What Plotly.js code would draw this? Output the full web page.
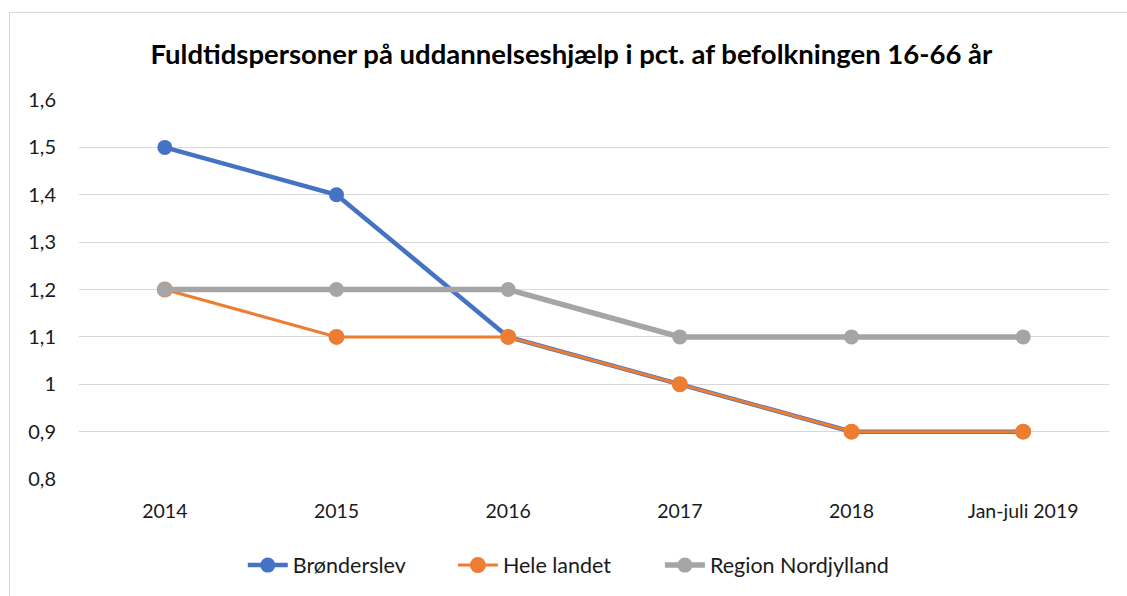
<!DOCTYPE html>
<html><head><meta charset="utf-8">
<script src="https://cdn.plot.ly/plotly-3.0.1.min.js"></script>
<style>
html,body{margin:0;padding:0;background:#fff;}
#frame{position:absolute;left:9px;top:12px;width:1130px;height:600px;border:1px solid #d9d9d9;box-sizing:border-box;}
#chart{position:absolute;left:0;top:0;width:1127px;height:596px;}
</style></head>
<body>
<div id="frame"></div>
<div id="chart"></div>
<script>
const categories = ["2014","2015","2016","2017","2018","Jan-juli 2019"];
const bronderslev = [1.5,1.4,1.1,1.0,0.9,0.9];
const heleLandet = [1.2,1.1,1.1,1.0,0.9,0.9];
const regionNordjylland = [1.2,1.2,1.2,1.1,1.1,1.1];
const seriesNames = ["Brønderslev","Hele landet","Region Nordjylland"];
const yTicks = [0.8,0.9,1.0,1.1,1.2,1.3,1.4,1.5,1.6];

const FONT = "Lato, 'Open Sans', sans-serif";
const traces = [
  {x:categories,y:bronderslev,name:seriesNames[0],mode:"lines+markers",legend:"legend",
   line:{color:"#4472c4",width:4.5},marker:{color:"#4472c4",size:15}},
  {x:categories,y:heleLandet,name:seriesNames[1],mode:"lines+markers",legend:"legend2",
   line:{color:"#ed7d31",width:3},marker:{color:"#ed7d31",size:16}},
  {x:categories,y:regionNordjylland,name:seriesNames[2],mode:"lines+markers",legend:"legend3",
   line:{color:"#a5a5a5",width:5.5},marker:{color:"#a5a5a5",size:15}}
];
const legBase = {orientation:"h",xanchor:"left",y:-0.224,yanchor:"middle",font:{size:21.5},itemwidth:40};
const layout = {
  width:1127,height:596,
  paper_bgcolor:"rgba(0,0,0,0)",plot_bgcolor:"rgba(0,0,0,0)",
  margin:{l:79,r:18,t:100,b:116},
  separators:",.",
  font:{family:FONT,size:20,color:"#1a1a1a"},
  title:{text:"<b>Fuldtidspersoner på uddannelseshjælp i pct. af befolkningen 16-66 år</b>",
    font:{family:FONT,size:27.5,color:"#000"},x:0.507,xanchor:"center",y:0.908,yanchor:"middle"},
  xaxis:{type:"category",range:[-0.5,5.5],showgrid:false,zeroline:false,showline:false,
    ticks:"",ticklabelstandoff:18,tickfont:{size:19.5}},
  yaxis:{range:[0.8,1.6],tickvals:yTicks,showgrid:true,gridcolor:"#d9d9d9",gridwidth:1,
    zeroline:false,showline:false,ticks:"",ticklabelstandoff:22,tickfont:{size:20}},
  legend:Object.assign({},legBase,{x:0.159}),
  legend2:Object.assign({},legBase,{x:0.363}),
  legend3:Object.assign({},legBase,{x:0.564}),
  showlegend:true
};
Plotly.newPlot("chart",traces,layout,{displayModeBar:false,staticPlot:true});
</script>
</body></html>
